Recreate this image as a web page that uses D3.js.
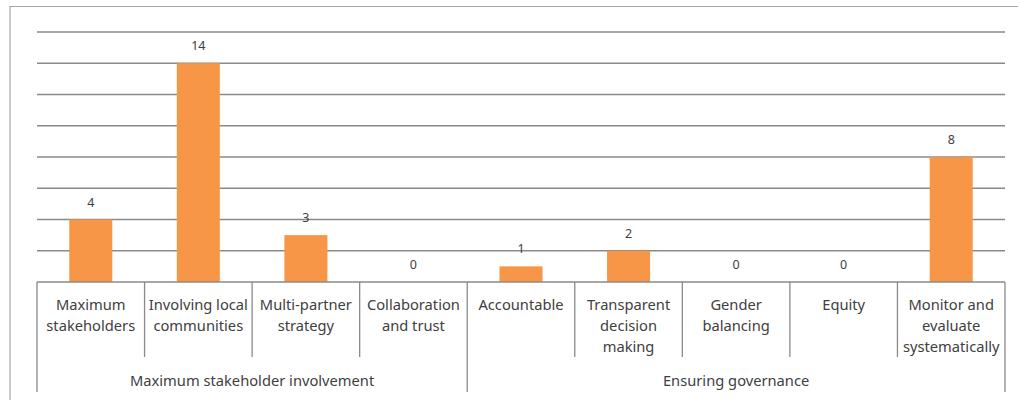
<!DOCTYPE html>
<html>
<head>
<meta charset="utf-8">
<script src="https://cdn.jsdelivr.net/npm/d3@7"></script>
<style>
  body { margin: 0; background: #fff; }
  svg { display: block; font-family: "Noto Sans", "Open Sans", sans-serif; }
</style>
</head>
<body>
<div id="chart"></div>
<script>
// categories (multi-line labels) and their group
const categories = [
  ["Maximum", "stakeholders"],
  ["Involving local", "communities"],
  ["Multi-partner", "strategy"],
  ["Collaboration", "and trust"],
  ["Accountable"],
  ["Transparent", "decision", "making"],
  ["Gender", "balancing"],
  ["Equity"],
  ["Monitor and", "evaluate", "systematically"]
]
const values = [4, 14, 3, 0, 1, 2, 0, 0, 8]
const groups = [
  { name: "Maximum stakeholder involvement", from: 0, to: 3 },
  { name: "Ensuring governance", from: 4, to: 8 }
]
const yTicks = [0, 2, 4, 6, 8, 10, 12, 14, 16]

const width = 1018, height = 400
const left = 37, right = 1005, baseY = 282, topY = 32

var svg = d3.select("#chart").append("svg")
            .attr("width", width)
            .attr("height", height)

// outer frame (top + left)
svg.append("path")
   .attr("d", `M10,400 L10,6.5 L1018,6.5`)
   .attr("fill", "none")
   .attr("stroke", "#a6a6a6")
   .attr("stroke-width", 1.2)

var x = d3.scaleBand()
          .domain(d3.range(categories.length))
          .range([left, right])
          .paddingInner(0)
          .paddingOuter(0)

var y = d3.scaleLinear()
          .domain([0, 16])
          .range([baseY, topY])

// gridlines
svg.append("g")
   .selectAll("line")
   .data(yTicks.filter(d => d > 0))
   .enter()
   .append("line")
   .attr("x1", left).attr("x2", right)
   .attr("y1", d => y(d)).attr("y2", d => y(d))
   .attr("stroke", "#8a8a8a")
   .attr("stroke-width", 1.3)

var barW = x.bandwidth() * 0.4

svg.append("g")
   .selectAll("rect")
   .data(values)
   .enter()
   .append("rect")
   .attr("x", (d, i) => x(i) + (x.bandwidth() - barW) / 2)
   .attr("y", d => y(d))
   .attr("width", barW)
   .attr("height", d => y(0) - y(d))
   .attr("fill", "#f79646")

// value labels
svg.append("g")
   .selectAll("text")
   .data(values)
   .enter()
   .append("text")
   .attr("x", (d, i) => x(i) + x.bandwidth() / 2)
   .attr("y", d => y(d) - 13)
   .attr("text-anchor", "middle")
   .attr("font-size", 12.5)
   .attr("fill", "#404040")
   .text(d => d)

// baseline axis
var axis = svg.append("g").attr("stroke", "#8a8a8a").attr("stroke-width", 1.3)
axis.append("line")
    .attr("x1", left).attr("x2", right)
    .attr("y1", baseY).attr("y2", baseY)

// category separators; group edges run longer
var edges = d3.range(categories.length + 1)
var groupEdges = [0].concat(groups.map(g => g.to + 1))
axis.selectAll("line.sep")
    .data(edges)
    .enter()
    .append("line")
    .attr("class", "sep")
    .attr("x1", i => i < categories.length ? x(i) : right)
    .attr("x2", i => i < categories.length ? x(i) : right)
    .attr("y1", baseY)
    .attr("y2", i => groupEdges.includes(i) ? 392 : 357)

// category labels
var catLabels = svg.append("g")
                   .selectAll("text")
                   .data(categories)
                   .enter()
                   .append("text")
                   .attr("text-anchor", "middle")
                   .attr("font-size", 14.7)
                   .attr("fill", "#404040")

catLabels.selectAll("tspan")
         .data((d, i) => d.map(line => ({ line, i })))
         .enter()
         .append("tspan")
         .attr("x", d => x(d.i) + x.bandwidth() / 2)
         .attr("y", (d, j) => 310 + j * 21)
         .text(d => d.line)

// group labels
svg.append("g")
   .selectAll("text")
   .data(groups)
   .enter()
   .append("text")
   .attr("x", g => (x(g.from) + x(g.to) + x.bandwidth()) / 2)
   .attr("y", 386)
   .attr("text-anchor", "middle")
   .attr("font-size", 14.7)
   .attr("fill", "#404040")
   .text(g => g.name)
</script>
</body>
</html>
